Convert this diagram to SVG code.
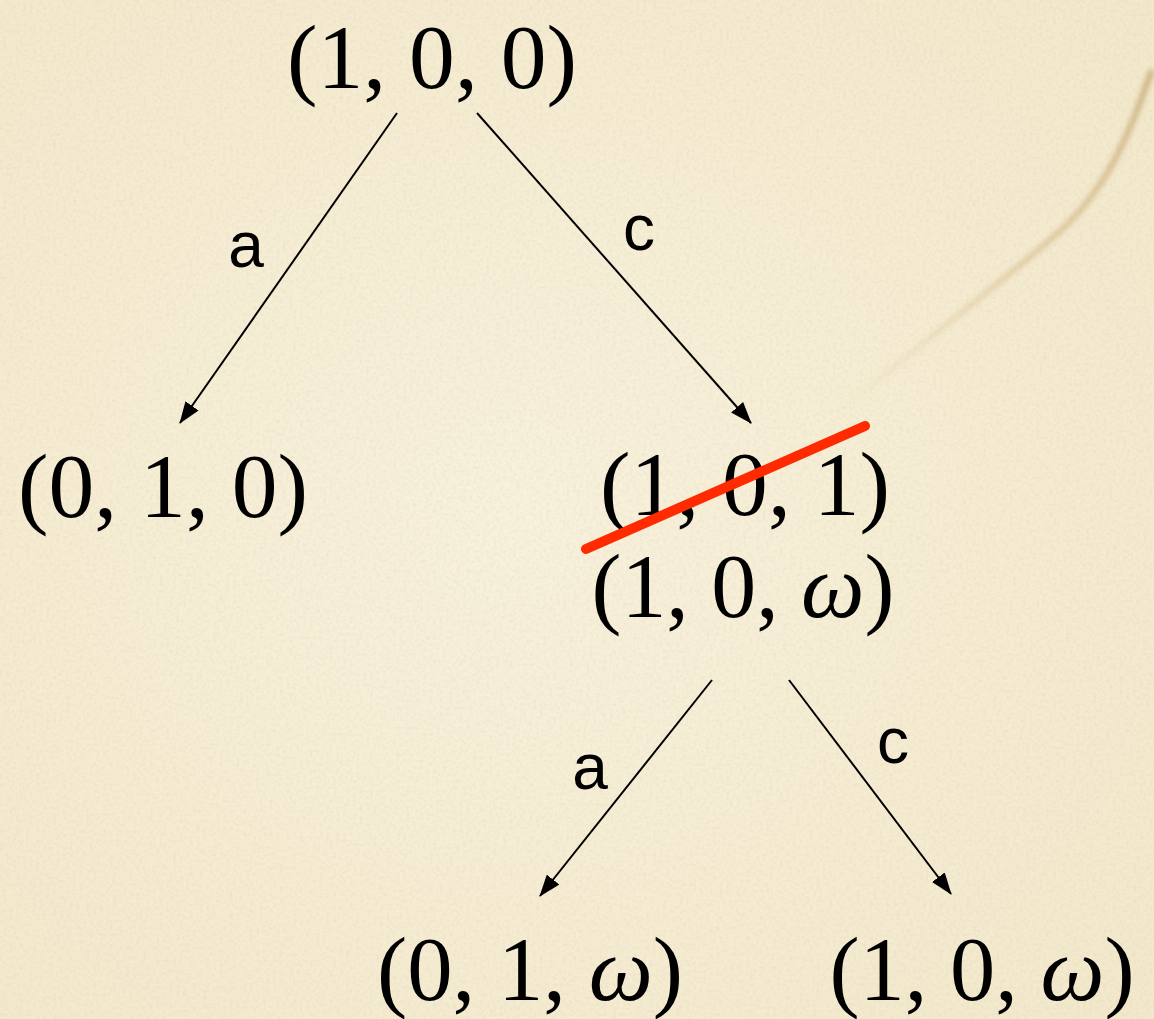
<svg xmlns="http://www.w3.org/2000/svg" width="1154" height="1019" viewBox="0 0 1154 1019">
<defs>
<filter id="paper" x="0" y="0" width="100%" height="100%">
<feTurbulence type="fractalNoise" baseFrequency="0.3" numOctaves="3" seed="4" result="n"/>
<feColorMatrix in="n" type="matrix" values="0 0 0 0 0.6  0 0 0 0 0.52  0 0 0 0 0.36  0 0 0 0.45 -0.18" result="c"/>
<feComposite in="c" in2="SourceGraphic" operator="over"/>
</filter>
<filter id="blur"><feGaussianBlur stdDeviation="2.5"/></filter>
<radialGradient id="bg" cx="0.45" cy="0.5" r="0.8">
<stop offset="0" stop-color="#f8f1dc"/>
<stop offset="1" stop-color="#f2e7c9"/>
</radialGradient>
<linearGradient id="streak" x1="1" y1="0" x2="0" y2="1">
<stop offset="0" stop-color="#b58f55" stop-opacity="0.6"/>
<stop offset="0.5" stop-color="#c9a467" stop-opacity="0.4"/>
<stop offset="1" stop-color="#d8bd86" stop-opacity="0"/>
</linearGradient>
<marker id="arr" viewBox="0 0 22 16" refX="21" refY="8" markerWidth="22" markerHeight="16" markerUnits="userSpaceOnUse" orient="auto">
<path d="M0,0 L22,8 L0,16 Z" fill="#000"/>
</marker>
<style>
.m{font-family:"Liberation Serif","DejaVu Serif",serif;font-size:92px;fill:#000;text-anchor:middle}
.w{font-style:italic}
.l{font-family:"Liberation Sans",Arial,sans-serif;font-size:64px;fill:#000;text-anchor:middle}
.e{stroke:#000;stroke-width:2;fill:none;marker-end:url(#arr)}
</style>
</defs>
<rect x="0" y="0" width="1154" height="1019" fill="url(#bg)" filter="url(#paper)"/>
<path d="M1152,70 C1130,130 1110,190 1050,240 C980,300 900,360 830,420" fill="none" stroke="url(#streak)" stroke-width="6" filter="url(#blur)"/>

<g id="connectors">
<line class="e" x1="397" y1="113" x2="180" y2="423"/>
<line class="e" x1="477" y1="113" x2="751" y2="423"/>
<line class="e" x1="712" y1="680" x2="540" y2="896"/>
<line class="e" x1="789" y1="680" x2="951" y2="894"/>
<text class="l" x="246" y="267">a</text>
<text class="l" x="639" y="250">c</text>
<text class="l" x="590" y="789">a</text>
<text class="l" x="893" y="763">c</text>
</g>

<g id="n100"><text class="m" x="432" y="88" textLength="290" lengthAdjust="spacingAndGlyphs">(1, 0, 0)</text></g>
<g id="n010"><text class="m" x="163" y="517" textLength="290" lengthAdjust="spacingAndGlyphs">(0, 1, 0)</text></g>
<g id="n101"><text class="m" x="745" y="515" textLength="290" lengthAdjust="spacingAndGlyphs">(1, 0, 1)</text></g>
<g id="n10w"><text class="m" x="743" y="617" textLength="303" lengthAdjust="spacingAndGlyphs">(1, 0, <tspan class="w">ω</tspan>)</text></g>
<g id="n01w"><text class="m" x="530" y="1000" textLength="306" lengthAdjust="spacingAndGlyphs">(0, 1, <tspan class="w">ω</tspan>)</text></g>
<g id="n10w2"><text class="m" x="982" y="1000" textLength="305" lengthAdjust="spacingAndGlyphs">(1, 0, <tspan class="w">ω</tspan>)</text></g>

<g id="strike"><line x1="586" y1="549" x2="865" y2="426" stroke="#ff2a00" stroke-width="10" stroke-linecap="round"/></g>
</svg>
